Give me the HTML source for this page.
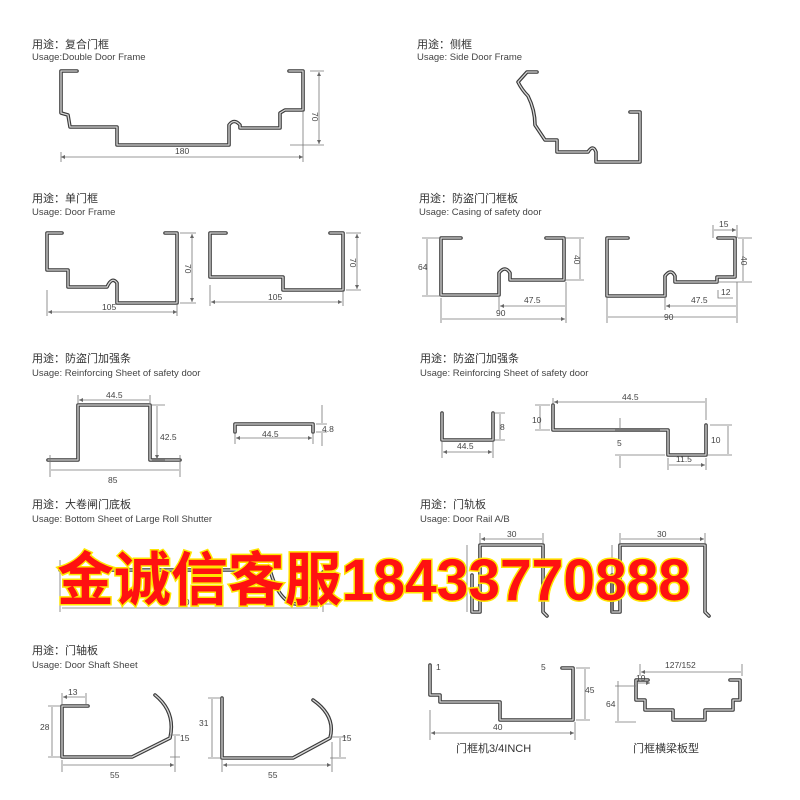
<!DOCTYPE html>
<html><head><meta charset="utf-8"><style>
html,body{margin:0;padding:0;background:#fff}
svg{display:block}
.p{fill:none;stroke:#3a3a3a;stroke-width:3.6;stroke-linejoin:round;stroke-linecap:round}
.pi{fill:none;stroke:#d8d8d8;stroke-width:1.3;stroke-linejoin:round;stroke-linecap:round}
.d{fill:none;stroke:#777;stroke-width:0.8}
.t{font-family:"Liberation Sans","Noto Sans CJK SC",sans-serif;fill:#333}
.ti{font-size:11px}
.us{font-size:9.5px;fill:#444}
.n{font-size:8.5px;fill:#444;font-family:"Liberation Sans",sans-serif}
</style></head><body>
<svg width="800" height="800" viewBox="0 0 800 800" xmlns="http://www.w3.org/2000/svg">
<defs>
<marker id="a" viewBox="0 0 6 6" refX="6" refY="3" markerWidth="5" markerHeight="5" orient="auto-start-reverse"><path d="M0,0L6,3L0,6z" fill="#666"/></marker>
<g id="prof" fill="none">
<path d="M77,71H61V113L68,115L70,127H117V145H229V125Q234,118 240,125V128H280V113L285,110H303V71H289"/>
<path d="M537,72H527L518,82Q522,90 528,96Q535,110 535,125L545,140H557V152H588Q593,144 596,152V162H640V112H630"/>
<path d="M62,233H47V270H68V287H107Q112,276 117,283V303H177V233H165"/>
<path d="M226,233H210V277H283V290H343V233H330"/>
<path d="M461,238H441V295H499V273Q505,265 510,273V280H564V238H546"/>
<path d="M628,238H607V296H665V276Q671,268 675,276V282H717V277H735V238H718"/>
<path d="M48,460H78V405H150V460H180"/>
<path d="M235,432V424H313V432"/>
<path d="M442,413V440H493V413"/>
<path d="M553,405V430H668V455H706V425"/>
<path d="M60,570H270Q280,606 300,604Q318,600 323,572"/>
<path d="M472,575V612H480V545H543V612L547,616"/>
<path d="M612,575V612H620V545H705V612L709,616"/>
<path d="M88,706H62V757H132L170,738Q176,712 155,695"/>
<path d="M222,698V758H293L330,738Q336,716 313,700"/>
<path d="M430,665V695H440V702H500V720H573V668H562"/>
<path d="M648,680H636V700H645V710H673V720H705V710H733V700H740V680H730"/>
</g>
</defs>
<rect width="800" height="800" fill="#fff"/>

<g class="t">
<text x="32" y="48" class="ti">用途：复合门框</text><text x="32" y="60" class="us">Usage:Double Door Frame</text>
<text x="417" y="48" class="ti">用途：侧框</text><text x="417" y="60" class="us">Usage: Side Door Frame</text>
<text x="32" y="202" class="ti">用途：单门框</text><text x="32" y="215" class="us">Usage: Door Frame</text>
<text x="419" y="202" class="ti">用途：防盗门门框板</text><text x="419" y="215" class="us">Usage: Casing of safety door</text>
<text x="32" y="362" class="ti">用途：防盗门加强条</text><text x="32" y="376" class="us">Usage: Reinforcing Sheet of safety door</text>
<text x="420" y="362" class="ti">用途：防盗门加强条</text><text x="420" y="376" class="us">Usage: Reinforcing Sheet of safety door</text>
<text x="32" y="508" class="ti">用途：大卷闸门底板</text><text x="32" y="522" class="us">Usage: Bottom Sheet of Large Roll Shutter</text>
<text x="420" y="508" class="ti">用途：门轨板</text><text x="420" y="522" class="us">Usage: Door Rail A/B</text>
<text x="32" y="654" class="ti">用途：门轴板</text><text x="32" y="668" class="us">Usage: Door Shaft Sheet</text>
<text x="456" y="752" class="ti">门框机3/4INCH</text>
<text x="633" y="752" class="ti">门框横梁板型</text>
</g>

<use href="#prof" class="p"/>
<use href="#prof" class="pi"/>

<g class="d">
<path d="M61,152V162M303,110V162M310,71H324M290,145H324"/>
<path d="M61,157H303" marker-start="url(#a)" marker-end="url(#a)"/>
<path d="M319,72V144" marker-start="url(#a)" marker-end="url(#a)"/>
<path d="M47,290V316M177,303V316M180,233H196M180,303H196"/>
<path d="M48,312H177" marker-start="url(#a)" marker-end="url(#a)"/>
<path d="M192,234V302" marker-start="url(#a)" marker-end="url(#a)"/>
<path d="M210,285V306M343,290V306M346,233H361M346,290H361"/>
<path d="M211,302H342" marker-start="url(#a)" marker-end="url(#a)"/>
<path d="M357,234V289" marker-start="url(#a)" marker-end="url(#a)"/>
<path d="M422,238H441M422,296H441M427,239V295M564,238H584M564,280H584M580,239V279M499,296V310M566,282V323M441,298V323"/>
<path d="M500,306H565M442,319H565" marker-start="url(#a)" marker-end="url(#a)"/>
<path d="M607,298V323M665,298V310M737,282V323M713,225V238M737,225V238M738,238H752M718,282H752M718,290V298H733M743,239V281"/>
<path d="M666,306H736M608,317H736M714,230H736" marker-start="url(#a)" marker-end="url(#a)"/>
<path d="M78,395V404M150,395V404M152,405H165M152,460H165M50,455V477M180,455V477"/>
<path d="M79,400H149M51,470H179M157,406V459" marker-start="url(#a)" marker-end="url(#a)"/>
<path d="M235,434V444M313,434V444M316,424H327M316,432H327M322,405V423M322,433V446"/>
<path d="M236,438H312" marker-start="url(#a)" marker-end="url(#a)"/>
<path d="M442,442V458M493,442V458M495,413H505M495,440H505M500,414V439"/>
<path d="M443,452H492" marker-start="url(#a)" marker-end="url(#a)"/>
<path d="M553,398V404M706,398V420M535,405H550M535,430H550M540,406V429M710,425H732M706,455H732M728,426V454M668,458V470M706,458V470M615,430H660M615,455H665M620,418V429M620,456V468"/>
<path d="M554,402H705M669,465H705" marker-start="url(#a)" marker-end="url(#a)"/>
<path d="M60,560V612M323,570V612M62,608H318M325,572H336M325,604H336M330,573V603"/>
<path d="M480,533V545M543,533V545M467,545V612M612,545V612M620,533V545M705,533V545"/>
<path d="M481,539H542M621,539H704" marker-start="url(#a)" marker-end="url(#a)"/>
<path d="M62,693V704M86,693V704M62,760V772M175,742V772M48,706H60M48,757H60M52,707V756M170,735H180M170,757H180M175,736V756"/>
<path d="M63,697H85M63,765H174" marker-start="url(#a)" marker-end="url(#a)"/>
<path d="M222,760V772M332,742V772M208,698H220M208,758H220M212,699V757M330,737H346M330,758H346M340,738V757"/>
<path d="M223,765H331" marker-start="url(#a)" marker-end="url(#a)"/>
<path d="M430,710V740M575,722V740M576,668H590M576,720H590M585,669V719"/>
<path d="M431,733H574" marker-start="url(#a)" marker-end="url(#a)"/>
<path d="M640,664V676M742,664V676M636,686H615M636,722H615M618,681V721"/>
<path d="M641,672H741M637,683H650" marker-start="url(#a)" marker-end="url(#a)"/>
</g>

<g class="n">
<text x="175" y="154">180</text>
<text x="312" y="112" transform="rotate(90 312 112)">70</text>
<text x="102" y="310">105</text>
<text x="185" y="264" transform="rotate(90 185 264)">70</text>
<text x="268" y="300">105</text>
<text x="350" y="258" transform="rotate(90 350 258)">70</text>
<text x="418" y="270">64</text>
<text x="574" y="255" transform="rotate(90 574 255)">40</text>
<text x="524" y="303">47.5</text>
<text x="496" y="316">90</text>
<text x="719" y="227">15</text>
<text x="741" y="256" transform="rotate(90 741 256)">40</text>
<text x="721" y="295">12</text>
<text x="691" y="303">47.5</text>
<text x="664" y="320">90</text>
<text x="106" y="398">44.5</text>
<text x="160" y="440">42.5</text>
<text x="108" y="483">85</text>
<text x="262" y="437">44.5</text>
<text x="322" y="432">4.8</text>
<text x="457" y="449">44.5</text>
<text x="500" y="430">8</text>
<text x="622" y="400">44.5</text>
<text x="532" y="423">10</text>
<text x="711" y="443">10</text>
<text x="617" y="446">5</text>
<text x="676" y="462">11.5</text>
<text x="180" y="605">80</text>
<text x="507" y="537">30</text>
<text x="657" y="537">30</text>
<text x="68" y="695">13</text>
<text x="40" y="730">28</text>
<text x="180" y="741">15</text>
<text x="110" y="778">55</text>
<text x="199" y="726">31</text>
<text x="342" y="741">15</text>
<text x="268" y="778">55</text>
<text x="436" y="670">1</text>
<text x="541" y="670">5</text>
<text x="585" y="693">45</text>
<text x="493" y="730">40</text>
<text x="665" y="668">127/152</text>
<text x="636" y="681">19</text>
<text x="606" y="707">64</text>
</g>

<text x="57" y="600" textLength="633" lengthAdjust="spacingAndGlyphs" font-family="'Liberation Sans','Noto Sans CJK SC',sans-serif" font-weight="bold" font-size="58" fill="#ff1111" stroke="#ffe600" stroke-width="3" paint-order="stroke">金诚信客服18433770888</text>
</svg>
</body></html>
